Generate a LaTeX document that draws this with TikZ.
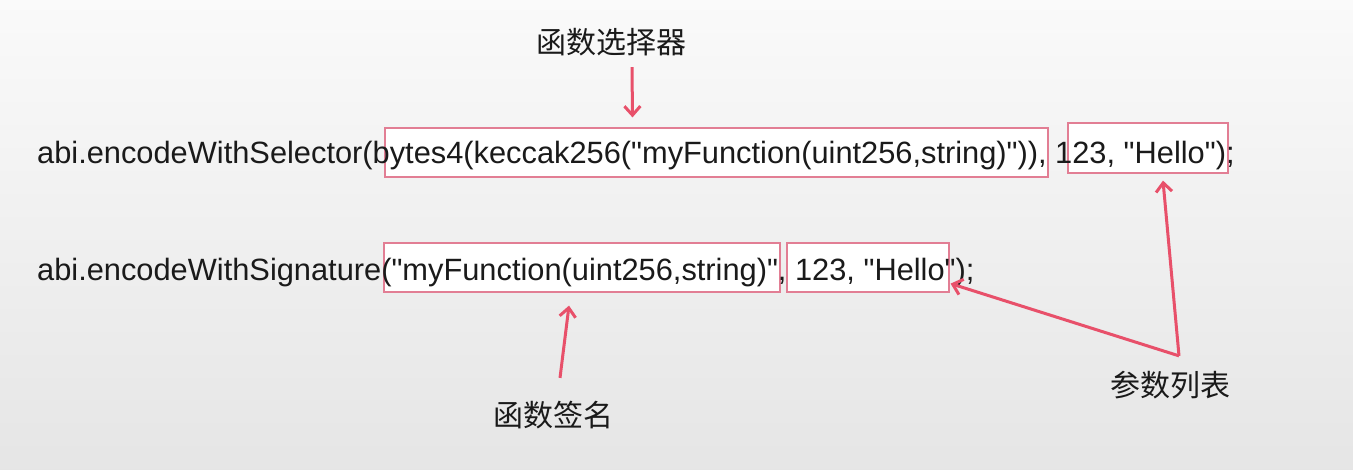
\documentclass[tikz,border=0pt]{standalone}
\usepackage{fontspec}
\setmainfont{Liberation Sans}
\newfontfamily\cjk{Noto Sans CJK SC}
\usetikzlibrary{arrows.meta,calc}
\definecolor{figR}{HTML}{E8506A}
\definecolor{figP}{HTML}{E27E94}
\definecolor{figT}{HTML}{1A1A1A}
\newcommand\dq{\textquotedbl}

\begin{document}
\begin{tikzpicture}[x=1pt,y=-1pt,
  code/.style={anchor=base west,inner sep=0pt,text=figT,font=\fontsize{30.8}{31}\selectfont},
  hbox/.style={draw=figP,fill=white,line width=1.2pt,inner sep=0pt},
  tag/.style={text=figT,font=\cjk\fontsize{30}{30}\selectfont,inner sep=0pt},
  pt/.style={->,figR,line width=3pt,line join=round,>={Straight Barb[length=9pt,width=16pt]}}]
\shade[top color=white!98!black,bottom color=white!90!black] (0,0) rectangle (1353,469);
\useasboundingbox (0,0) rectangle (1353,469);
% boxes behind the code
\node[hbox,minimum width=663pt,minimum height=49pt] (selbox) at (716.5,152.5) {};
\node[hbox,minimum width=160pt,minimum height=50pt] (selargs) at (1148,148) {};
\node[hbox,minimum width=396pt,minimum height=49pt] (sigbox) at (582,267.5) {};
\node[hbox,minimum width=162pt,minimum height=49pt] (sigargs) at (868,267.5) {};
% the two calls
\node[code] (selline) at (37,163) {abi.encodeWithSelector(bytes4(keccak256(\dq myFunction(uint256,string)\dq)), 123, \dq Hello\dq);};
\node[code] (sigline) at (37,280) {abi.encodeWithSignature(\dq myFunction(uint256,string)\dq, 123, \dq Hello\dq);};
% labels
\node[tag] (sel) at (611,42) {函数选择器};
\node[tag] (sig) at (553,415) {函数签名};
\node[tag] (args) at (1170,385) {参数列表};
\coordinate (fork) at ($(args.north)+(9,-15)$);
\draw[pt] ($(sel.south)+(21,11)$) -- ($(selbox.north)+(-84,-10)$);
\draw[pt] ($(sig.north)+(7,-23)$) -- ($(sigbox.south)+(-13,13)$);
\draw[pt] (fork) -- ($(selargs.south)+(15,7)$);
\draw[pt] (fork) -- ($(sigargs.south east)+(1,-9)$);
\end{tikzpicture}
\end{document}
